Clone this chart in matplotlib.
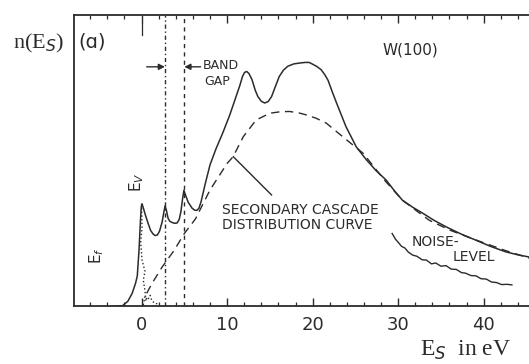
import numpy as np
import matplotlib
matplotlib.use("Agg")
import matplotlib.pyplot as plt

# measured spectrum n(Es), W(100), arbitrary units
es_total = [-3.6, -2.2, -1.6, -1.1, -0.7, -0.5, -0.3, -0.12, -0.04, 0.05, 0.2,
            0.45, 0.75, 1.05, 1.35, 1.6, 1.85, 2.1, 2.4, 2.6, 2.75, 2.9, 3.1,
            3.3, 3.55, 3.85, 4.15, 4.4, 4.6, 4.8, 4.95, 5.1, 5.45, 5.9, 6.2,
            6.45, 6.7, 6.95, 7.4, 8.0, 8.7, 9.5, 10.3, 11.0, 11.5, 11.8, 12.05,
            12.3, 12.55, 12.9, 13.3, 13.6, 14.0, 14.4, 14.8, 15.2, 15.6, 16.1,
            16.6, 17.1, 17.8, 18.5, 19.1, 19.6, 20.0, 20.5, 21.0, 21.4, 21.8,
            22.3, 22.8, 23.9, 25.1, 26.3, 27.4, 28.6, 29.6, 30.5, 31.7, 32.9,
            34.2, 35.6, 37.3, 39.1, 40.8, 42.6, 44.0, 45.4]
n_total = [0.0, 0.03, 0.18, 0.45, 0.80, 1.05, 1.92, 3.00, 3.40, 3.52, 3.38,
           3.13, 2.86, 2.61, 2.48, 2.43, 2.45, 2.58, 2.89, 3.22, 3.45, 3.30, 3.02,
           2.92, 2.88, 2.85, 2.86, 2.98, 3.25, 3.70, 3.98, 3.85, 3.57, 3.37, 3.30,
           3.29, 3.36, 3.58, 4.15, 4.85, 5.40, 5.95, 6.55, 7.15, 7.58, 7.88, 8.02,
           8.05, 7.98, 7.78, 7.40, 7.19, 7.03, 6.97, 7.02, 7.19, 7.50, 7.88,
           8.10, 8.23, 8.31, 8.34, 8.36, 8.36, 8.30, 8.22, 8.11, 7.95, 7.75,
           7.35, 6.97, 6.16, 5.47, 5.02, 4.66, 4.33, 3.95, 3.64, 3.40, 3.19,
           2.95, 2.73, 2.49, 2.27, 2.06, 1.87, 1.77, 1.69]

# secondary cascade distribution curve
es_cascade = [0.6, 1.2, 2.4, 3.8, 5.0, 6.3, 8.0, 10.0, 10.7, 11.9, 13.4, 15.0,
              16.2, 17.3, 18.4, 19.3, 20.4, 21.6, 23.5, 25.9, 28.4, 30.5, 33.6,
              36.0, 38.6, 42.5, 45.4]
n_cascade = [0.45, 0.78, 1.35, 1.92, 2.50, 3.00, 3.99, 4.90, 5.13, 5.82, 6.39, 6.62,
             6.67, 6.68, 6.63, 6.56, 6.45, 6.28, 5.82, 5.25, 4.33, 3.64, 2.96,
             2.62, 2.33, 1.92, 1.65]

# noise level
es_noise = [29.3, 29.7, 30.0, 30.4, 30.8, 31.2, 31.7, 32.2, 32.8, 33.3, 33.9,
            34.4, 35.0, 35.6, 36.2, 36.8, 37.4, 37.9, 38.5, 39.1, 39.7, 40.3,
            40.9, 41.5, 42.1, 42.7, 43.3]
n_noise = [2.50, 2.30, 2.20, 2.06, 2.00, 1.86, 1.76, 1.72, 1.60, 1.59, 1.46,
           1.49, 1.38, 1.40, 1.28, 1.27, 1.16, 1.14, 1.06, 1.05, 0.95, 0.94,
           0.84, 0.82, 0.75, 0.76, 0.74]

# d-band component under the first peak
es_dband = [0.0, 0.05, -0.1, 0.05, 0.4, 0.2, 0.4, 0.5]
n_dband = [3.50, 2.70, 2.20, 1.60, 1.20, 0.90, 0.55, 0.20]
es_curl = [0.2, 0.4, 0.7, 1.0, 1.2, 1.5, 2.0]
n_curl = [0.05, 0.35, 0.22, 0.38, 0.20, 0.12, 0.08]

gap_edges = [2.73, 5.0]
xticks = [0, 10, 20, 30, 40]

ink = "#2b2b2b"

fig = plt.figure(figsize=(5.29, 3.64), dpi=100)
ax = fig.add_axes([0.1399, 0.158, 0.8601, 0.802])

ax.plot(es_total, n_total, color=ink, lw=1.1, solid_joinstyle="round")
ax.plot(es_cascade, n_cascade, color=ink, lw=1.0, dashes=(6, 4))
ax.plot(es_noise, n_noise, color=ink, lw=1.0)
ax.plot(es_dband, n_dband, color=ink, lw=1.0, ls=":")
ax.plot(es_curl, n_curl, color=ink, lw=1.0, ls=":")

# band gap edges
ax.axvline(gap_edges[0], color=ink, lw=1.0, dashes=(3, 2, 1, 2))
ax.axvline(gap_edges[1], color=ink, lw=1.0, dashes=(3, 3))
ax.plot([0.0, 0.0], [9.3, 9.7], color=ink, lw=0.9)

arrow = dict(arrowstyle="-|>", color=ink, lw=1.0, mutation_scale=9,
             shrinkA=0, shrinkB=0)
ax.annotate("", xy=(gap_edges[0], 8.21), xytext=(0.6, 8.21), arrowprops=arrow)
ax.annotate("", xy=(gap_edges[1], 8.21), xytext=(6.9, 8.21), arrowprops=arrow)

lab = dict(color=ink, family="DejaVu Sans")
ax.text(7.1, 8.27, "BAND", fontsize=9, ha="left", va="center", **lab)
ax.text(7.3, 7.69, "GAP", fontsize=9, ha="left", va="center", **lab)
ax.text(31.4, 8.78, "W(100)", fontsize=11, ha="center", va="center", **lab)
ax.text(9.35, 3.30, "SECONDARY CASCADE", fontsize=10, ha="left", va="center", **lab)
ax.text(9.35, 2.79, "DISTRIBUTION CURVE", fontsize=10, ha="left", va="center", **lab)
ax.text(31.6, 2.22, "NOISE-", fontsize=10, ha="left", va="center", **lab)
ax.text(36.4, 1.70, "LEVEL", fontsize=10, ha="left", va="center", **lab)
ax.text(-5.2, 1.73, "E$_f$", fontsize=11, rotation=90, ha="center", va="center", **lab)
ax.text(-0.55, 4.26, "E$_V$", fontsize=11, rotation=90, ha="center", va="center", **lab)

# leader from the label to the cascade curve
ax.plot([10.73, 15.2], [5.13, 3.82], color=ink, lw=1.0)

ax.set_xlim(-7.9, 45.3)
ax.set_ylim(0, 10)
ax.set_xticks(xticks)
ax.set_xticks(np.arange(-6, 46, 2), minor=True)
ax.set_yticks([])
ax.tick_params(axis="x", which="major", direction="in", length=6, width=1.0,
               top=True, pad=7, labelsize=13, colors=ink)
ax.tick_params(axis="x", which="minor", direction="in", length=3, width=0.9,
               top=True, colors=ink)
for lbl in ax.get_xticklabels():
    lbl.set_family("DejaVu Sans")
ax.spines["right"].set_visible(False)
for side in ["left", "bottom", "top"]:
    ax.spines[side].set_linewidth(1.3)
    ax.spines[side].set_color(ink)

fig.text(13 / 529, 1 - 48 / 364, "n(E$_S$)", fontsize=16, family="Liberation Serif",
         color=ink, ha="left", va="baseline")
fig.text(78 / 529, 1 - 47 / 364, "(ɑ)", fontsize=14, family="DejaVu Sans",
         color=ink, ha="left", va="baseline")
fig.text(420 / 529, 1 - 356 / 364, "E$_S$  in eV", fontsize=17, family="Liberation Serif",
         color=ink, ha="left", va="baseline")

fig.savefig("out.png", dpi=100)
